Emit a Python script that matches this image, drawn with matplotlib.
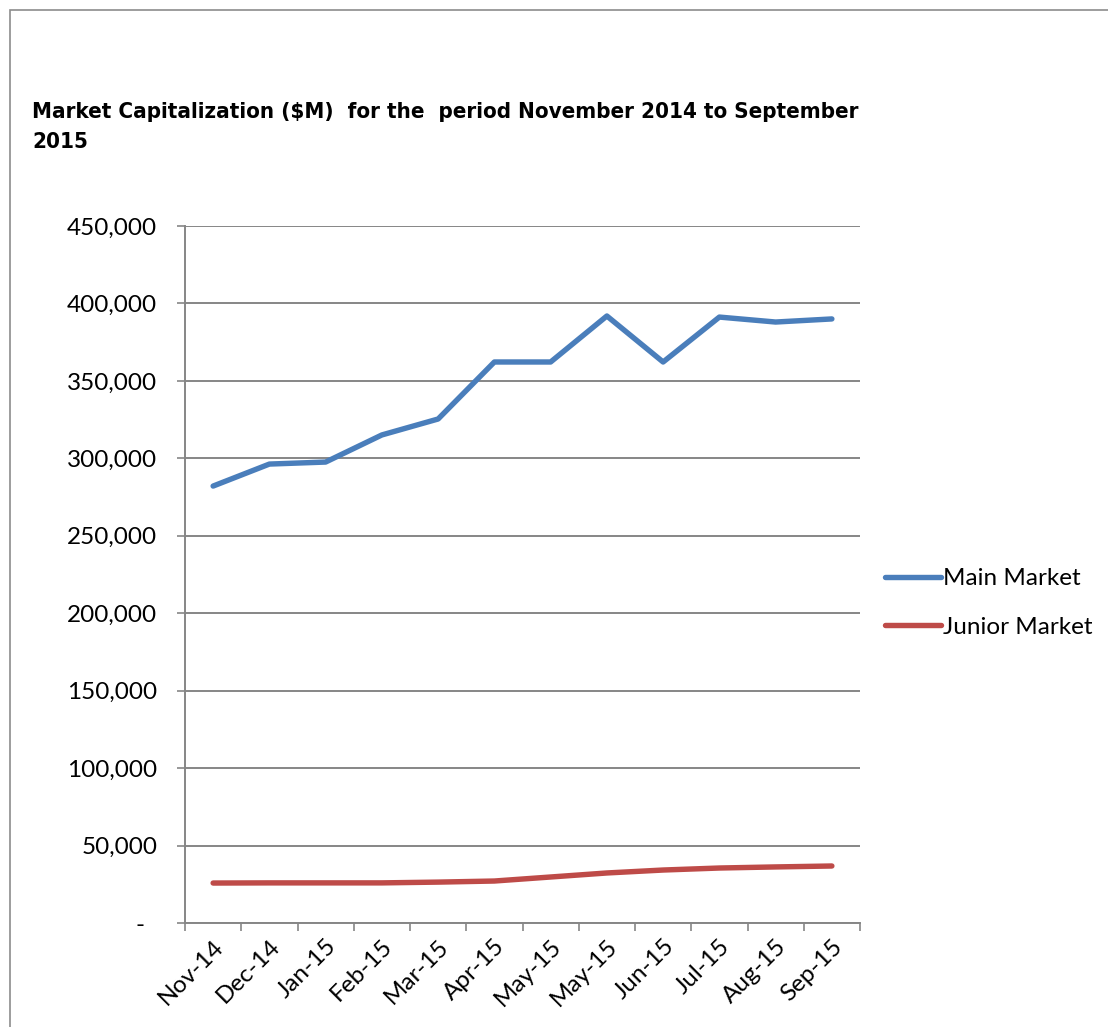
import matplotlib
matplotlib.use("Agg")
import matplotlib.pyplot as plt
from matplotlib.patches import Rectangle
from matplotlib.ticker import FuncFormatter, FixedLocator, NullFormatter
import numpy as np

months = ["Nov-14", "Dec-14", "Jan-15", "Feb-15", "Mar-15", "Apr-15",
          "May-15", "May-15", "Jun-15", "Jul-15", "Aug-15", "Sep-15"]
main_market = [282100, 296300, 297600, 315100, 325400, 362200,
               362200, 391900, 362200, 391200, 388000, 390000]
junior_market = [25800, 25900, 25900, 25900, 26400, 27100,
                 29700, 32300, 34200, 35500, 36200, 36800]

title = "Market Capitalization ($M)  for the  period November 2014 to September\n2015"

BLUE = "#4A7EBB"
RED = "#BE4B48"
GRID = "#868686"
label_font = "Lato"
fs = 17.5

fig = plt.figure(figsize=(11.08, 10.27), dpi=100)

# outer chart border (only top and left edges end up inside the image)
fig.patches.append(Rectangle((10 / 1108, -0.2), 1.5, 1.2 - 10 / 1027,
                             transform=fig.transFigure, fill=False,
                             edgecolor="#8c8c8c", linewidth=1.2))

fig.text(32 / 1108, 1 - 102 / 1027, title, fontsize=16, fontweight="bold",
         family="DejaVu Sans", fontstretch="condensed", va="top", ha="left",
         linespacing=1.6)

ax = fig.add_axes([185 / 1108, 1 - 923 / 1027, 675 / 1108, 697 / 1027])

x = np.arange(len(months))
ax.plot(x, main_market, color=BLUE, linewidth=3.9, solid_capstyle="round",
        label="Main Market")
ax.plot(x, junior_market, color=RED, linewidth=3.9, solid_capstyle="round",
        label="Junior Market")

ax.set_xlim(-0.5, len(months) - 0.5)
ax.set_ylim(0, 450000)
ax.set_yticks(np.arange(0, 450001, 50000))
ax.yaxis.set_major_formatter(FuncFormatter(
    lambda v, p: "-  " if v == 0 else f"{int(v):,}"))
ax.grid(axis="y", color=GRID, linewidth=1.4)
ax.set_axisbelow(True)

# category boundary ticks on x, labels at category centres
ax.xaxis.set_major_locator(FixedLocator(np.arange(-0.5, len(months), 1.0)))
ax.xaxis.set_major_formatter(NullFormatter())
ax.xaxis.set_minor_locator(FixedLocator(x))
ax.set_xticklabels(months, minor=True, rotation=45, ha="right",
                   rotation_mode="anchor", family=label_font, fontsize=fs)
ax.tick_params(axis="x", which="minor", length=0, pad=9)
ax.tick_params(axis="x", which="major", length=6, color=GRID, width=1.2)
ax.tick_params(axis="y", length=6, color=GRID, width=1.2, pad=14,
               labelsize=fs)
for lbl in ax.get_yticklabels():
    lbl.set_family(label_font)

for side in ("top", "right"):
    ax.spines[side].set_visible(False)
for side in ("left", "bottom"):
    ax.spines[side].set_color(GRID)
    ax.spines[side].set_linewidth(1.4)

leg = ax.legend(loc="center left", bbox_to_anchor=(875 / 1108, 1 - 603 / 1027),
                bbox_transform=fig.transFigure, frameon=False,
                borderaxespad=0, prop={"family": label_font, "size": fs},
                handlelength=2.3, handletextpad=0.1, labelspacing=1.15)

fig.savefig("out.png", dpi=100, facecolor="white")
